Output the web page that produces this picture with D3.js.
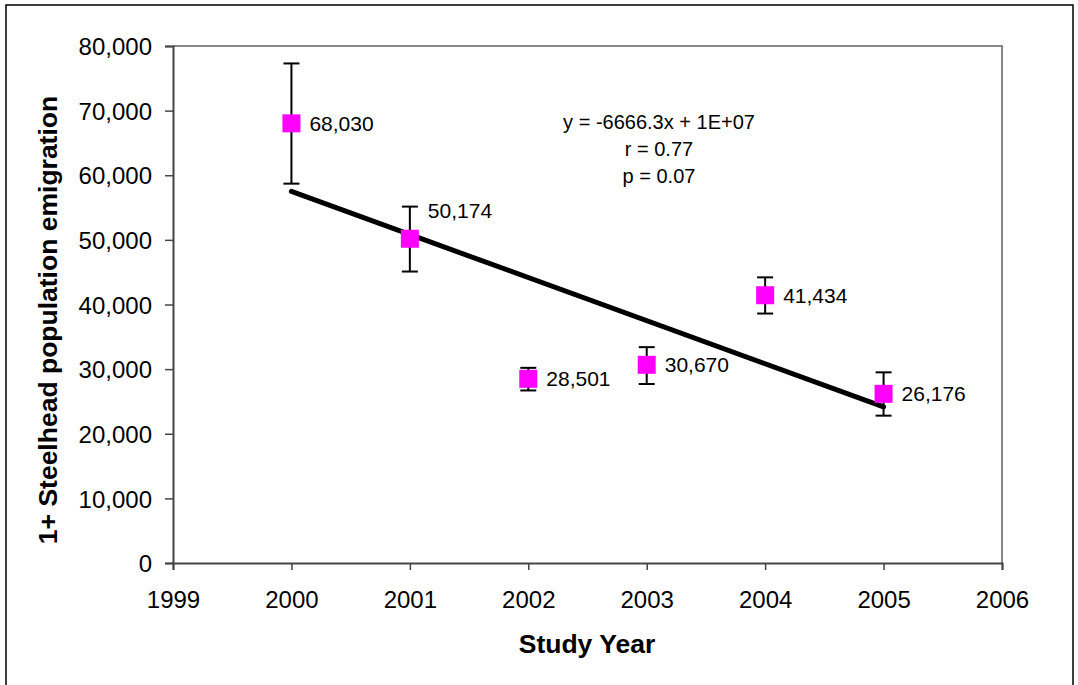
<!DOCTYPE html>
<html>
<head>
<meta charset="utf-8">
<script src="https://cdn.jsdelivr.net/npm/d3@7"></script>
<style>
  body { margin: 0; background: #fff; }
  text { font-family: Arial, "Liberation Sans", sans-serif; fill: #000; }
</style>
</head>
<body>
<svg id="chart" width="1078" height="685"></svg>
<script>
// data
const years = [2000, 2001, 2002, 2003, 2004, 2005];
const emigrants = [68030, 50174, 28501, 30670, 41434, 26176];
const errUpper = [77300, 55150, 30200, 33400, 44200, 29500];
const errLower = [58700, 45100, 26700, 27700, 38600, 22800];
const yTicks = [0, 10000, 20000, 30000, 40000, 50000, 60000, 70000, 80000];
const xTicks = [1999, 2000, 2001, 2002, 2003, 2004, 2005, 2006];
const statLines = ["y = -6666.3x + 1E+07", "r = 0.77", "p = 0.07"];

const svg = d3.select("#chart");
const plotL = 173, plotR = 1002, plotT = 46, plotB = 563;

const x = d3.scaleLinear().domain([1999, 2006]).range([plotL, plotR]);
const y = d3.scaleLinear().domain([0, 80000]).range([plotB, plotT]);
const fmt = d3.format(",");

// outer chart border
svg.append("rect")
  .attr("x", 6).attr("y", 5)
  .attr("width", 1067).attr("height", 700)
  .attr("fill", "none").attr("stroke", "#000").attr("stroke-width", 1.5);

// plot area frame (top / right gray)
svg.append("path")
  .attr("d", `M${plotL},${plotT}H${plotR}V${plotB}`)
  .attr("fill", "none").attr("stroke", "#888").attr("stroke-width", 2);

// axes
let yAxis = svg.append("g")
  .attr("transform", `translate(${plotL},0)`)
  .call(d3.axisLeft(y).tickValues(yTicks).tickFormat(fmt).tickSize(8).tickPadding(13));
let xAxis = svg.append("g")
  .attr("transform", `translate(0,${plotB})`)
  .call(d3.axisBottom(x).tickValues(xTicks).tickFormat(d3.format("d")).tickSize(7));

[yAxis, xAxis].forEach(a => {
  a.select(".domain").attr("stroke", "#444").attr("stroke-width", 2);
  a.selectAll(".tick line").attr("stroke", "#444").attr("stroke-width", 1.5);
  a.selectAll(".tick text")
    .attr("font-size", 24)
    .attr("font-family", "Arial, 'Liberation Sans', sans-serif")
    .attr("fill", "#000");
});
yAxis.selectAll(".tick text").attr("dy", "0.36em");
xAxis.selectAll(".tick text").attr("y", 45).attr("dy", 0);

// regression line from the data
const mx = d3.mean(years), my = d3.mean(emigrants);
const slope = d3.sum(years, (d, i) => (d - mx) * (emigrants[i] - my)) /
              d3.sum(years, d => (d - mx) * (d - mx));
const icpt = my - slope * mx;
const xEnds = d3.extent(years);
svg.append("line")
  .attr("x1", x(xEnds[0])).attr("y1", y(icpt + slope * xEnds[0]))
  .attr("x2", x(xEnds[1])).attr("y2", y(icpt + slope * xEnds[1]))
  .attr("stroke", "#000").attr("stroke-width", 5).attr("stroke-linecap", "round");

// error bars
const pts = years.map((yr, i) => ({yr: yr, v: emigrants[i], hi: errUpper[i], lo: errLower[i], i: i}));
let eb = svg.append("g").selectAll("g").data(pts).join("g");
eb.append("line")
  .attr("x1", d => x(d.yr)).attr("x2", d => x(d.yr))
  .attr("y1", d => y(d.hi)).attr("y2", d => y(d.lo))
  .attr("stroke", "#000").attr("stroke-width", 2);
eb.selectAll("line.cap").data(d => [[d.yr, d.hi], [d.yr, d.lo]]).join("line")
  .attr("class", "cap")
  .attr("x1", d => x(d[0]) - 8).attr("x2", d => x(d[0]) + 8)
  .attr("y1", d => y(d[1])).attr("y2", d => y(d[1]))
  .attr("stroke", "#000").attr("stroke-width", 2);

// markers
svg.append("g").selectAll("rect").data(pts).join("rect")
  .attr("x", d => x(d.yr) - 9).attr("y", d => y(d.v) - 9)
  .attr("width", 18).attr("height", 18)
  .attr("fill", "#ff00ff");

// data labels (2001 label was nudged up in the original)
svg.append("g").selectAll("text").data(pts).join("text")
  .attr("x", d => x(d.yr) + 18)
  .attr("y", d => y(d.v) + (d.i === 1 ? -28 : 0))
  .attr("dy", "0.36em")
  .attr("font-size", 21)
  .text(d => fmt(d.v));

// regression stats
svg.append("g").selectAll("text").data(statLines).join("text")
  .attr("x", 659).attr("y", (d, i) => 122 + i * 27)
  .attr("dy", "0.36em")
  .attr("text-anchor", "middle")
  .attr("font-size", 20)
  .text(d => d);

// axis titles
svg.append("text")
  .attr("x", 587).attr("y", 653)
  .attr("text-anchor", "middle")
  .attr("font-size", 26.5).attr("font-weight", "bold")
  .text("Study Year");
svg.append("text")
  .attr("transform", "translate(47,320) rotate(-90)")
  .attr("dy", "0.36em")
  .attr("text-anchor", "middle")
  .attr("font-size", 26.5).attr("font-weight", "bold")
  .text("1+ Steelhead population emigration");
</script>
</body>
</html>
